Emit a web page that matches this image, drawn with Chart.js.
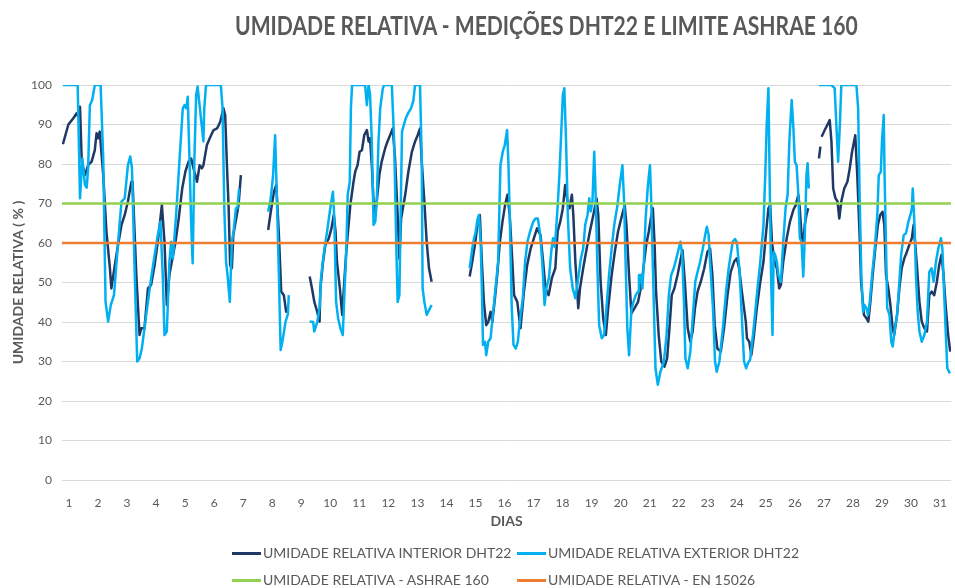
<!DOCTYPE html>
<html>
<head>
<meta charset="utf-8">
<script src="https://cdn.jsdelivr.net/npm/chart.js@4.4.0/dist/chart.umd.min.js"></script>
<style>
  body { margin: 0; background: #fff; }
  #wrap { position: relative; width: 955px; height: 588px; font-family: Lato, sans-serif; color: #595959; }
  #title { position: absolute; left: 235px; top: 10px; font-size: 27px; font-weight: bold; line-height: 30px; white-space: nowrap; transform-origin: left center; }
  .legend-item { position: absolute; font-size: 14px; line-height: 16px; white-space: nowrap; }
  .legend-item .swatch { position: absolute; left: -31px; top: 7px; width: 29px; height: 3px; }
</style>
</head>
<body>
<div id="wrap">
  <canvas id="chart" width="955" height="588"></canvas>
  <div id="title">UMIDADE RELATIVA - MEDIÇÕES DHT22 E LIMITE ASHRAE 160</div>
  <div id="legend"></div>
</div>
<script>
// tick labels on the day axis
const dayTicks = [1,2,3,4,5,6,7,8,9,10,11,12,13,14,15,16,17,18,19,20,21,22,23,24,25,26,27,28,29,30,31];
const dayMin = 0.76, dayMax = 31.38;

// limits
const ashraeLimit = 70;
const en15026Limit = 60;

// [day, RH %], null = no reading
const interior = [
  [0.79,85],[0.98,90],[1.15,91.6],[1.26,92.8],[1.32,92],[1.38,94.5],[1.44,80.6],[1.55,77.2],[1.66,79.7],[1.78,80.6],
  [1.89,83.5],[1.95,87.8],[2.00,86.5],[2.06,88.2],[2.18,77.2],[2.29,62.9],[2.41,53.6],[2.46,48.5],[2.58,54.4],[2.69,59.5],
  [2.81,64.6],[2.92,67.1],[3.03,70.5],[3.15,75.5],[3.19,75.5],[3.32,51.9],[3.43,36.7],[3.49,38.4],[3.60,38.4],[3.72,48.5],
  [3.83,49.4],[3.95,54.4],[4.06,60.3],[4.20,69.6],[4.29,60.3],[4.37,44.3],[4.46,52],[4.67,60.3],[4.78,66.2],[4.90,73.8],
  [5.01,78.1],[5.12,80.6],[5.21,81.4],[5.29,78.9],[5.41,75.5],[5.50,79.7],[5.58,78.9],[5.63,79.7],[5.75,84.8],[5.87,86.9],
  [5.98,88.6],[6.10,89],[6.21,90.7],[6.32,94.1],[6.38,92.4],[6.44,79.7],[6.50,68.8],[6.55,54.4],[6.61,53.6],[6.66,62],
  [6.78,67.1],[6.84,69.6],[6.92,77.2],
  [7.4,null],
  [7.86,63.3],[7.95,67.9],[8.06,73],[8.14,74.7],[8.23,62],[8.31,47.7],[8.40,46.8],[8.48,42.6],[8.53,43.5],
  [8.9,null],
  [9.29,51.5],[9.37,48.5],[9.45,45.1],[9.55,42.6],[9.63,40.1],[9.66,48.5],[9.75,55.3],[9.83,59.5],[9.95,61.2],[10.04,63.7],
  [10.12,67.1],[10.18,63],[10.23,55.3],[10.33,48.5],[10.41,41.8],[10.46,47.7],[10.55,57.8],[10.63,64.6],[10.69,69.6],[10.80,75.5],
  [10.86,78.1],[10.94,79.7],[11.01,83.1],[11.09,83.5],[11.17,87.3],[11.26,88.6],[11.32,85.7],[11.37,86.5],[11.43,79.7],[11.49,70.5],
  [11.55,67.9],[11.60,70.5],[11.69,77.2],[11.77,80.6],[11.89,84],[11.97,85.7],[12.06,87.3],[12.15,89],[12.23,81.4],[12.31,68.8],
  [12.38,56],[12.44,66.2],[12.58,72.2],[12.69,78.1],[12.81,83.1],[12.92,85.7],[13.01,87.3],[13.09,89],[13.15,80.6],[13.24,70.5],
  [13.32,60.3],[13.40,53.6],[13.49,50.2],
  [14.1,null],
  [14.80,51.5],[14.89,55.3],[14.98,59.5],[15.07,64.6],[15.15,67.1],[15.22,55.3],[15.29,45.1],[15.37,39.2],[15.44,40],[15.52,42.6],
  [15.58,40],[15.67,46],[15.75,51.9],[15.84,60.3],[15.93,65.4],[16.02,69.6],[16.10,72.2],[16.18,67.1],[16.27,55.3],[16.33,46.8],
  [16.44,45.1],[16.55,38.4],[16.67,47.7],[16.78,54.4],[16.90,58.6],[17.01,61.2],[17.12,63.7],[17.24,62],[17.33,55.3],[17.41,48.5],
  [17.52,46.8],[17.63,51.1],[17.75,53.6],[17.83,62.9],[17.92,65.4],[18.01,68.8],[18.09,74.7],[18.17,70.5],[18.24,68.8],[18.32,72.2],
  [18.37,67.1],[18.44,55.3],[18.54,43.5],[18.60,48.5],[18.71,53.6],[18.83,58.6],[18.94,62.9],[19.06,67.1],[19.17,71.3],[19.23,67.1],
  [19.31,50.2],[19.40,40.9],[19.49,36.7],[19.57,43.5],[19.69,51.9],[19.80,57.8],[19.91,62.9],[20.02,66.2],[20.14,69.6],[20.20,64.6],
  [20.29,51.9],[20.37,42.2],[20.48,43.5],[20.60,45.1],[20.69,48.5],[20.77,52.7],[20.88,59.5],[20.97,62.9],[21.06,67.1],[21.11,68.8],
  [21.17,59.5],[21.22,47.7],[21.31,36.7],[21.40,30],[21.51,28.7],[21.60,30.8],[21.68,38.4],[21.76,46.8],[21.85,48.5],[21.96,51.9],
  [22.05,55.3],[22.13,58.2],[22.21,50.2],[22.31,38.4],[22.40,35],[22.48,37.6],[22.56,43.5],[22.65,47.7],[22.76,50.2],[22.88,53.6],
  [22.99,57.8],[23.08,58.6],[23.16,51.9],[23.24,39.2],[23.33,33.3],[23.45,32.5],[23.56,38.4],[23.68,46.8],[23.79,52.7],[23.91,55.3],
  [24.00,56.1],[24.08,53.6],[24.19,46.8],[24.31,40.1],[24.35,35.9],[24.43,35],[24.50,31.6],[24.58,35.9],[24.69,43.5],[24.81,50.2],
  [24.92,55.3],[25.00,62],[25.09,68.8],[25.15,69.6],[25.21,60.3],[25.30,55.3],[25.38,53.6],[25.46,48.5],[25.52,49.4],[25.60,55.3],
  [25.72,61.2],[25.83,65.4],[25.95,68.4],[26.03,69.6],[26.12,72.2],[26.17,68.8],[26.23,62],[26.29,60.3],[26.34,64.6],[26.40,67.1],
  [26.46,68.8],
  [26.6,null],
  [26.83,81.4],[26.88,84.4],
  [26.9,null],
  [26.92,86.9],[27.03,88.6],[27.12,89.9],[27.20,91.1],[27.26,85.7],[27.32,73.8],[27.40,71.3],[27.47,70.5],[27.53,66.2],[27.60,70.5],
  [27.70,73.8],[27.81,75.5],[27.89,78.9],[27.97,83.1],[28.08,87.3],[28.15,77],[28.23,62],[28.28,50.2],[28.38,41.8],[28.46,41],
  [28.53,40.1],[28.60,45.1],[28.68,51.9],[28.77,58.6],[28.86,64.6],[28.94,67.1],[29.02,67.9],[29.08,64.6],[29.14,51.9],[29.22,48.5],
  [29.29,44.3],[29.37,38.4],[29.42,36.7],[29.52,41.8],[29.60,48.5],[29.68,53.6],[29.77,56.1],[29.86,57.8],[29.94,59.5],[30.03,61.2],
  [30.09,64.6],[30.14,60.3],[30.21,53.6],[30.29,45.1],[30.37,40.1],[30.46,38.4],[30.55,37.6],[30.63,46.8],[30.71,47.7],[30.80,46.8],
  [30.89,50.2],[30.97,54.4],[31.05,57],[31.12,51.9],[31.20,43.5],[31.28,36.7],[31.35,32.5]
];

const exterior = [
  [0.79,100],[1.30,100],[1.38,71.3],[1.46,81.4],[1.55,74.7],[1.61,74],[1.66,78.9],[1.72,94.9],[1.80,96.2],[1.89,100],
  [2.09,100],[2.18,81.4],[2.26,45.1],[2.35,40.1],[2.44,44.3],[2.55,46.8],[2.64,55.3],[2.75,65.4],[2.81,70.5],[2.92,71.3],
  [3.03,79.7],[3.11,81.9],[3.17,79],[3.26,53.6],[3.35,30],[3.43,30.8],[3.51,33.3],[3.60,38.4],[3.72,45.1],[3.83,51.1],
  [3.95,57],[4.06,62],[4.15,65.4],[4.23,51.9],[4.29,36.7],[4.37,37.6],[4.46,55.3],[4.52,60.3],[4.58,56.1],[4.69,67.1],
  [4.81,81.4],[4.92,94.1],[4.98,94.9],[5.04,94.1],[5.09,97],[5.15,81.4],[5.21,64.6],[5.26,54.9],[5.32,81.4],[5.38,97.5],
  [5.43,99.6],[5.51,94.1],[5.57,89.9],[5.63,85.7],[5.66,94.1],[5.72,100],[6.23,100],[6.29,94.1],[6.35,68.8],[6.41,55.3],
  [6.46,52],[6.54,45.1],[6.61,60.3],[6.67,63],[6.75,68.8],[6.80,68.8],[6.86,73.8],
  [7.4,null],
  [7.86,67.9],[7.95,71.3],[8.03,77.2],[8.10,87.3],[8.17,68.8],[8.23,51.9],[8.29,32.9],[8.35,35],[8.46,40.1],[8.54,42],[8.57,46.8],
  [8.9,null],
  [9.29,40.1],[9.41,40],[9.45,37.6],[9.55,40],[9.63,43.5],[9.68,51.1],[9.77,57],[9.89,62.9],[10.00,68.8],[10.09,73],
  [10.14,66],[10.20,45.1],[10.27,40.9],[10.35,38.4],[10.43,36.7],[10.49,47.7],[10.55,57.8],[10.60,72.2],[10.67,75.5],[10.71,94.1],
  [10.75,100],[11.20,100],[11.26,94.9],[11.32,100],[11.37,97.5],[11.43,85.7],[11.49,64.6],[11.55,65.4],[11.60,70.5],[11.66,85.7],
  [11.72,94.1],[11.81,99.2],[11.86,100],[12.12,100],[12.20,85.7],[12.27,60.3],[12.32,45.1],[12.38,46.8],[12.42,66],[12.47,88.2],
  [12.52,89.5],[12.60,91.6],[12.69,93],[12.78,94.1],[12.86,96],[12.92,100],[13.09,100],[13.15,81.4],[13.18,48.5],[13.24,45.1],
  [13.32,41.8],[13.40,43],[13.49,44.3],
  [14.1,null],
  [14.80,53.6],[14.89,58.6],[14.95,61.2],[15.00,62.5],[15.07,66],[15.12,67.1],[15.18,60],[15.22,48.5],[15.26,34.2],[15.33,35],
  [15.37,31.6],[15.44,35],[15.52,35.9],[15.60,41.8],[15.69,48.5],[15.78,55.3],[15.83,70.5],[15.86,79.7],[15.94,83.1],[16.01,84.8],
  [16.09,88.6],[16.14,79],[16.20,60.3],[16.25,43.5],[16.31,34.2],[16.39,33.3],[16.46,35],[16.54,40.9],[16.63,46],[16.71,55.3],
  [16.79,60.3],[16.88,62.9],[16.99,65.4],[17.07,66.2],[17.15,66.2],[17.23,62],[17.30,55.3],[17.38,44.3],[17.44,48.5],[17.53,51.1],
  [17.61,57.8],[17.67,61.2],[17.73,59],[17.78,63.7],[17.84,70.5],[17.89,77.2],[17.95,87.3],[18.01,97.5],[18.06,99.2],[18.12,85.7],
  [18.18,67.1],[18.26,53.6],[18.35,48.5],[18.44,46],[18.52,50.2],[18.63,56],[18.71,58.6],[18.78,64.6],[18.86,67.1],[18.92,71.3],
  [18.97,68],[19.03,70.5],[19.09,83.1],[19.14,72],[19.20,53.6],[19.26,39.2],[19.35,35.9],[19.43,36.7],[19.51,43.5],[19.60,51.9],
  [19.69,58.6],[19.78,64.6],[19.89,69.6],[19.97,74.7],[20.06,79.7],[20.12,70.5],[20.17,55.3],[20.23,38.4],[20.29,31.6],[20.37,43],
  [20.44,45.1],[20.52,46.8],[20.60,47.7],[20.63,51.9],[20.69,51.9],[20.75,48.5],[20.80,55.3],[20.86,66.2],[20.94,74.7],[21.01,79.7],
  [21.05,71.3],[21.12,51],[21.20,28.3],[21.28,24.1],[21.37,27.4],[21.49,30],[21.58,36.7],[21.66,46.8],[21.74,51.9],[21.83,53.6],
  [21.92,56.1],[22.00,58.6],[22.06,60.3],[22.12,57],[22.18,45.1],[22.23,30.8],[22.31,28.3],[22.40,32.5],[22.49,41.8],[22.57,50.2],
  [22.65,52.7],[22.74,55.3],[22.83,58.6],[22.91,62],[22.97,64.1],[23.03,62],[23.08,55.3],[23.18,43.5],[23.25,30],[23.31,27.4],
  [23.40,30],[23.52,38.4],[23.63,47.7],[23.72,53.6],[23.79,57],[23.86,60.3],[23.94,61],[24.00,60.3],[24.09,53.6],[24.17,41.8],
  [24.25,30],[24.32,28.3],[24.38,29.5],[24.46,30.5],[24.57,37.6],[24.69,46.8],[24.81,55.3],[24.92,64.6],[24.98,77.2],[25.03,89.9],
  [25.09,99.2],[25.13,77],[25.18,52],[25.23,36.7],[25.27,57.8],[25.32,57],[25.38,55.3],[25.43,51.9],[25.52,50.2],[25.60,60.3],
  [25.68,68.8],[25.75,72.2],[25.81,85.7],[25.89,96.2],[25.95,89],[26.00,80.6],[26.06,79.7],[26.12,72.2],[26.17,61.2],[26.23,60.3],
  [26.29,51.5],[26.34,61.2],[26.40,77.2],[26.44,80.2],[26.48,73.8],
  [26.6,null],
  [26.83,100],[27.26,100],[27.37,99.2],[27.43,89.9],[27.49,80.6],[27.55,89.9],[27.60,100],[28.12,100],[28.18,94],[28.23,72],
  [28.29,51.9],[28.35,42.6],[28.40,44.3],[28.46,43.5],[28.52,41.8],[28.58,45.1],[28.66,51.9],[28.75,58.6],[28.84,67.1],[28.89,77.2],
  [28.96,78],[29.00,85.7],[29.06,92.4],[29.09,77.2],[29.15,55.3],[29.18,43.5],[29.26,41.8],[29.32,35],[29.37,33.8],[29.43,37.6],
  [29.52,41.8],[29.60,50.2],[29.66,57],[29.75,62],[29.83,62.5],[29.91,65.4],[29.98,67.1],[30.03,68.8],[30.06,73.8],[30.12,64.6],
  [30.17,51.9],[30.23,42.6],[30.29,37.6],[30.37,35],[30.46,36.7],[30.55,40],[30.63,52.7],[30.71,53.6],[30.78,50.2],[30.86,55.3],
  [30.94,58.6],[31.03,61.2],[31.08,58.6],[31.14,47.7],[31.20,36.7],[31.25,28.3],[31.34,27]
];

const toPoints = rows => rows.map(([x, y]) => ({ x: x, y: y }));
const flatLine = v => [{ x: dayMin, y: v }, { x: dayMax, y: v }];

const grey = '#595959';
const font = 'Lato, sans-serif';

const chart = new Chart(document.getElementById('chart'), {
  type: 'line',
  data: {
    datasets: [
      { label: 'UMIDADE RELATIVA INTERIOR DHT22', data: toPoints(interior), borderColor: '#1F3864', borderWidth: 2.5, order: 4 },
      { label: 'UMIDADE RELATIVA EXTERIOR DHT22', data: toPoints(exterior), borderColor: '#00B0F0', borderWidth: 2.5, order: 3 },
      { label: 'UMIDADE RELATIVA - ASHRAE 160', data: flatLine(ashraeLimit), borderColor: '#92D050', borderWidth: 2.5, order: 2 },
      { label: 'UMIDADE RELATIVA - EN 15026', data: flatLine(en15026Limit), borderColor: '#ED7D31', borderWidth: 2.5, order: 1 }
    ]
  },
  options: {
    responsive: false,
    animation: false,
    spanGaps: false,
    elements: { point: { radius: 0 }, line: { tension: 0, borderJoinStyle: 'round' } },
    layout: { padding: { top: 85, bottom: 58, left: 0, right: 0 } },
    plugins: { legend: { display: false }, tooltip: { enabled: false } },
    scales: {
      x: {
        type: 'linear',
        min: dayMin,
        max: dayMax,
        afterBuildTicks: s => { s.ticks = dayTicks.map(v => ({ value: v })); },
        afterFit: s => { s.height = 50; },
        grid: { display: false },
        border: { display: false },
        ticks: { color: grey, font: { family: font, size: 12 }, padding: 8, maxRotation: 0, autoSkip: false },
        title: { display: true, text: 'DIAS', color: grey, font: { family: font, size: 14, weight: 'bold' }, padding: { top: 0, bottom: 0 } }
      },
      y: {
        min: 0,
        max: 100,
        afterFit: s => { s.width = 62; },
        grid: { color: '#d9d9d9', lineWidth: 1, drawTicks: false },
        border: { display: false },
        ticks: { stepSize: 10, color: grey, font: { family: font, size: 12 }, padding: 10 },
        title: { display: true, text: 'UMIDADE RELATIVA ( % )', color: grey, font: { family: font, size: 14, weight: 'bold' }, padding: { top: 10, bottom: 0 } }
      }
    }
  }
});

// title squeezed to the width it has in the picture
const title = document.getElementById('title');
title.style.transform = 'scaleX(' + (623 / title.offsetWidth) + ')';

// legend laid out as a 2x2 grid under the plot
const legendSpots = [[263, 545], [548, 545], [263, 572], [548, 572]];
const legend = document.getElementById('legend');
chart.data.datasets.forEach((ds, i) => {
  const item = document.createElement('div');
  item.className = 'legend-item';
  item.style.left = legendSpots[i][0] + 'px';
  item.style.top = legendSpots[i][1] + 'px';
  const sw = document.createElement('span');
  sw.className = 'swatch';
  sw.style.background = ds.borderColor;
  item.appendChild(sw);
  item.appendChild(document.createTextNode(ds.label));
  legend.appendChild(item);
});
</script>
</body>
</html>
